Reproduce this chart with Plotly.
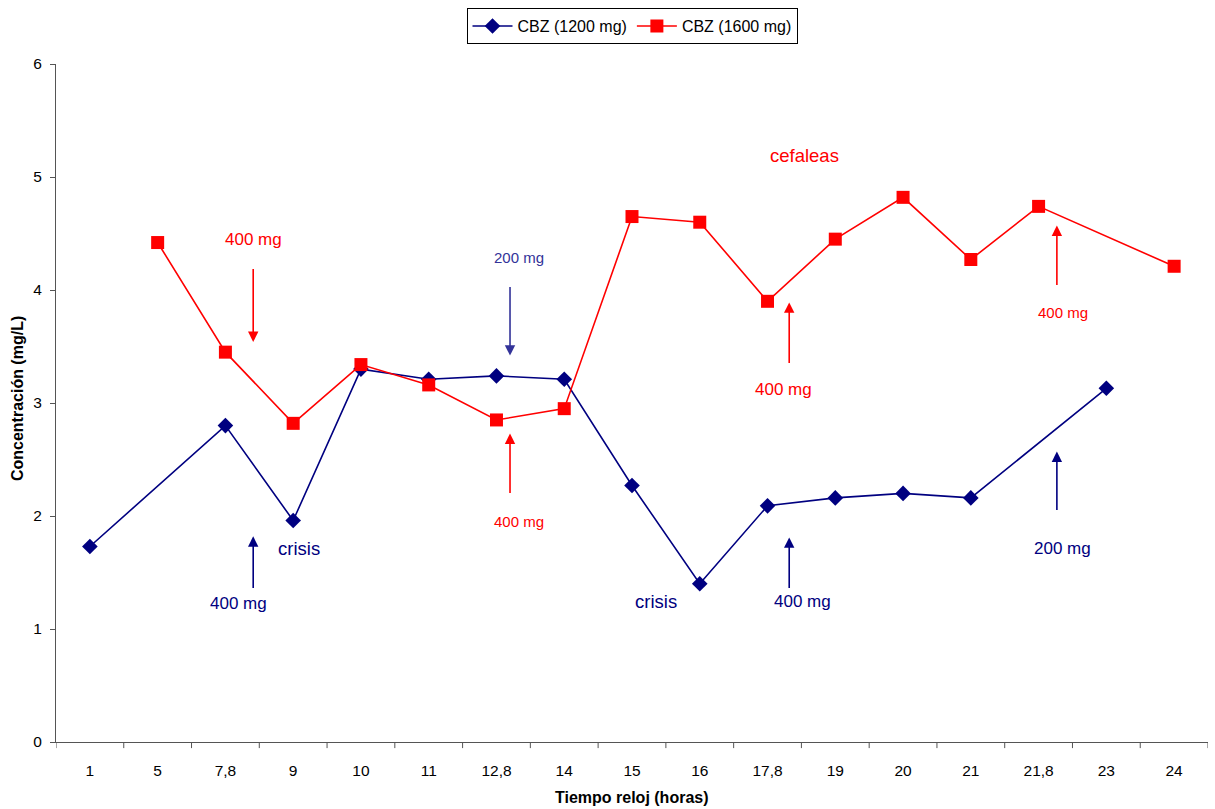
import plotly.graph_objects as go

# Clock time of each sample (hours), used as category labels
horas = ["1", "5", "7,8", "9", "10", "11", "12,8", "14", "15", "16",
         "17,8", "19", "20", "21", "21,8", "23", "24"]

# CBZ plasma concentration (mg/L); None where no sample was taken
cbz_1200 = [1.73, None, 2.80, 1.96, 3.30, 3.21, 3.24, 3.21, 2.27, 1.40,
            2.09, 2.16, 2.20, 2.16, None, 3.13, None]
cbz_1600 = [None, 4.42, 3.45, 2.82, 3.34, 3.16, 2.85, 2.95, 4.65, 4.60,
            3.90, 4.45, 4.82, 4.27, 4.74, None, 4.21]

NAVY = "#000080"
RED = "#FF0000"
FONT = "Liberation Sans, Arial, sans-serif"

xi = list(range(len(horas)))

fig = go.Figure()
fig.add_trace(go.Scatter(
    x=xi, y=cbz_1200, name="CBZ (1200 mg)", mode="lines+markers",
    connectgaps=True,
    line=dict(color=NAVY, width=1.6),
    marker=dict(symbol="diamond", size=12, color=NAVY),
))
fig.add_trace(go.Scatter(
    x=xi, y=cbz_1600, name="CBZ (1600 mg)", mode="lines+markers",
    connectgaps=True,
    line=dict(color=RED, width=1.6),
    marker=dict(symbol="square", size=13, color=RED),
))

# Dose arrows: (x, tip y, tail y, colour)
arrows = [
    (2.41, 3.54, 4.20, RED),
    (2.41, 1.82, 1.35, NAVY),
    (6.20, 3.42, 4.04, "#333399"),
    (6.20, 2.73, 2.19, RED),
    (10.32, 3.89, 3.34, RED),
    (10.32, 1.81, 1.35, NAVY),
    (14.27, 4.57, 4.03, RED),
    (14.27, 2.57, 2.04, NAVY),
]
# Notes: (x, y, text, colour, size)
notes = [
    (2.41, 4.45, "400 mg", RED, 17),
    (2.20, 1.23, "400 mg", NAVY, 17),
    (3.09, 1.71, "crisis", NAVY, 18.5),
    (6.33, 4.29, "200 mg", "#333399", 15),
    (6.33, 1.95, "400 mg", RED, 15),
    (10.54, 5.19, "cefaleas", RED, 18.5),
    (10.24, 3.12, "400 mg", RED, 17),
    (10.52, 1.24, "400 mg", NAVY, 17),
    (8.35, 1.24, "crisis", NAVY, 18.5),
    (14.36, 3.80, "400 mg", RED, 15),
    (14.36, 1.71, "200 mg", NAVY, 17),
]

annotations = []
for x, tip, tail, col in arrows:
    annotations.append(dict(
        x=x, y=tip, ax=x, ay=tail, xref="x", yref="y", axref="x", ayref="y",
        text="", showarrow=True, arrowhead=2, arrowsize=1.3, arrowwidth=1.6,
        arrowcolor=col,
    ))
for x, y, t, col, sz in notes:
    annotations.append(dict(
        x=x, y=y, xref="x", yref="y", text=t, showarrow=False,
        font=dict(color=col, size=sz, family=FONT),
        xanchor="center", yanchor="middle",
    ))

# Axis titles
annotations.append(dict(
    x=0.5, y=-0.082, xref="paper", yref="paper", text="<b>Tiempo reloj (horas)</b>",
    showarrow=False, font=dict(size=16, family=FONT, color="black"),
    xanchor="center", yanchor="middle",
))
annotations.append(dict(
    x=-0.034, y=0.507, xref="paper", yref="paper", text="<b>Concentración (mg/L)</b>",
    showarrow=False, textangle=-90, font=dict(size=16, family=FONT, color="black"),
    xanchor="center", yanchor="middle",
))

fig.update_layout(
    width=1215, height=809,
    margin=dict(l=56, r=7, t=64, b=67),
    paper_bgcolor="white", plot_bgcolor="white",
    font=dict(family=FONT, size=15, color="black"),
    showlegend=True,
    legend=dict(
        orientation="h", x=0.5, xanchor="center", y=0.99, yanchor="top",
        yref="container", bordercolor="black", borderwidth=1, bgcolor="white",
        font=dict(size=16, family=FONT), itemwidth=40,
    ),
    annotations=annotations,
)

fig.update_xaxes(
    range=[-0.5, len(horas) - 0.5],
    tickmode="array", tickvals=xi, ticktext=horas,
    showline=True, linecolor="#555555", linewidth=1,
    ticks="", showgrid=False, zeroline=False,
    ticklabelstandoff=14,
    tickfont=dict(size=15.5, family=FONT),
)
fig.update_yaxes(
    range=[0, 6], dtick=1,
    showline=True, linecolor="#555555", linewidth=1,
    ticks="outside", ticklen=5, tickcolor="#555555",
    showgrid=False, zeroline=False,
    ticklabelstandoff=5,
    tickfont=dict(size=15.5, family=FONT),
)

# Tick marks between categories along the x axis
for b in range(len(horas) + 1):
    fig.add_shape(type="line", xref="x", yref="paper",
                  x0=b - 0.5, x1=b - 0.5, y0=0, y1=-0.009,
                  line=dict(color="#555555", width=1))

fig.write_html("out.html")
